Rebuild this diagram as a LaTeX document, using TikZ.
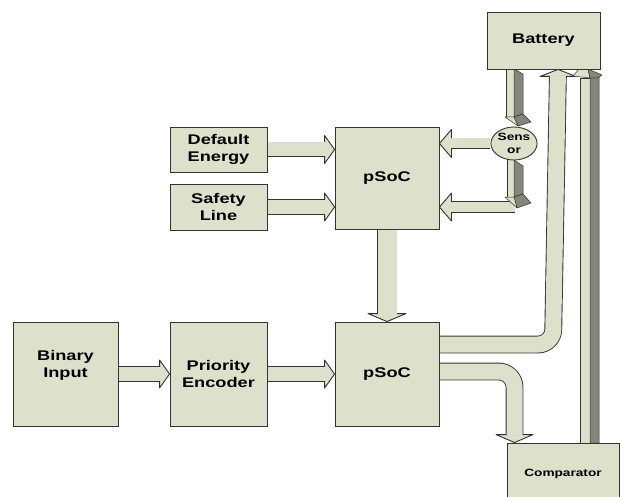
\documentclass[tikz,border=0pt]{standalone}
\usepackage{fontspec}
\setmainfont[FakeStretch=1.3]{Liberation Sans}
\usepackage{tikz}
\usetikzlibrary{
arrows.meta,
positioning,
shapes.geometric,
calc,
backgrounds
}
\definecolor{blkfill}{HTML}{DDE1CB}
\definecolor{blkshade}{HTML}{838779}
\definecolor{blkline}{HTML}{333333}

\tikzset{
  block/.style={draw=blkline, line width=0.9pt, fill=blkfill, align=center, inner sep=0pt,
    font=\bfseries\fontsize{14}{17}\selectfont},
  pipeline/.style={line width=#1+1.8pt, draw=blkline},
  pipecore/.style={line width=#1, draw=blkfill},
  face3d/.style={fill=blkfill, draw=blkline, line width=0.5pt, line join=round},
  shade3d/.style={fill=blkshade, draw=blkline, line width=0.5pt, line join=round},
  pics/fathead/.style args={#1/#2}{code={
    \filldraw[face3d, line width=0.9pt] (-#1,#2) -- (0,0) -- (-#1,-#2) -- cycle;}}
}

\begin{document}
\begin{tikzpicture}[x=1pt, y=-1pt, >=Stealth]
\useasboundingbox (0,0) rectangle (620,497);

% Blocks
\node[block, minimum width=97pt, minimum height=45pt] (dflt) at (218.5,149.5) {Default\\Energy};
\node[block, minimum width=97pt, minimum height=46pt] (safety) at (218.5,207) {Safety\\Line};
\node[block, minimum width=104pt, minimum height=102pt] (psoca) at (387,178) {pSoC};
\node[block, minimum width=105pt, minimum height=104pt] (binary) at (65.5,374) {};
\node[font=\bfseries\fontsize{14}{17}\selectfont, align=center] (bintxt) at (65.5,365) {Binary\\Input};
\node[block, minimum width=97pt, minimum height=104pt] (prio) at (218.5,374) {Priority\\Encoder};
\node[block, minimum width=104pt, minimum height=104pt] (psocb) at (387,374) {pSoC};
\node[block, minimum width=113pt, minimum height=57pt] (battery) at (543.5,40.5) {Battery};
\node[block, minimum width=112pt, minimum height=64pt,
  font=\bfseries\fontsize{10.5}{13}\selectfont] (comp) at (563,475) {\raisebox{4pt}{Comparator}};
\node[block, ellipse, minimum width=44pt, minimum height=33pt,
  font=\bfseries\fontsize{10.5}{12.5}\selectfont] (sensor) at (514,143.5) {Sens\\or};

% Connection points
\coordinate (snsout) at (515,207);
\coordinate (psocout1) at ($(psocb.east)+(0,-29.5)$);
\coordinate (psocout2) at ($(psocb.east)+(0,-2.5)$);
\coordinate (batin) at ($(battery.south)+(14.5,0)$);
\coordinate (compin) at ($(comp.north west)+(8,0)$);

\begin{scope}[on background layer]
\fill[white] (0,0) rectangle (620,497);

% Block arrows into upper pSoC
\pic at (dflt.east -| psoca.west) {fathead=10/14};
\draw[pipeline=14pt, shorten >=10pt] (dflt.east) -- (dflt.east -| psoca.west);
\draw[pipecore=14pt, shorten >=9pt] (dflt.east) -- (dflt.east -| psoca.west);

\pic at (safety.east -| psoca.west) {fathead=10/14};
\draw[pipeline=14pt, shorten >=10pt] (safety.east) -- (safety.east -| psoca.west);
\draw[pipecore=14pt, shorten >=9pt] (safety.east) -- (safety.east -| psoca.west);

\pic[rotate=180] at (sensor.west -| psoca.east) {fathead=12/14};
\draw[pipeline=10pt, shorten >=12pt] (sensor.west) -- (sensor.west -| psoca.east);
\draw[pipecore=10pt, shorten >=11pt] (sensor.west) -- (sensor.west -| psoca.east);

\pic[rotate=180] at (snsout -| psoca.east) {fathead=12/14};
\draw[pipeline=10pt, shorten >=12pt] (snsout) -- (snsout -| psoca.east);
\draw[pipecore=10pt, shorten >=11pt] (snsout) -- (snsout -| psoca.east);

% pSoC to pSoC
\pic[rotate=-90] at (psocb.north) {fathead=8/19};
\draw[pipeline=19pt, shorten >=8pt] (psoca.south) -- (psocb.north);
\draw[pipecore=19pt, shorten >=7pt] (psoca.south) -- (psocb.north);

% Bottom row
\pic at (prio.west) {fathead=10/14};
\draw[pipeline=14pt, shorten >=10pt] (binary.east) -- (prio.west);
\draw[pipecore=14pt, shorten >=9pt] (binary.east) -- (prio.west);

\pic at (psocb.west) {fathead=10/14};
\draw[pipeline=14pt, shorten >=10pt] (prio.east) -- (psocb.west);
\draw[pipecore=14pt, shorten >=9pt] (prio.east) -- (psocb.west);

% Lower pSoC outputs
\pic[rotate=90] at (batin) {fathead=7/18};
\draw[pipeline=16pt, rounded corners=15pt, shorten >=7pt] (psocout1) -- (553,344.5) -- (batin);
\draw[pipecore=16pt, rounded corners=15pt, shorten >=6pt] (psocout1) -- (553,344.5) -- (batin);

\pic[rotate=-90] at (compin) {fathead=8/18.5};
\draw[pipeline=16pt, rounded corners=16pt, shorten >=8pt] (psocout2) -| (compin);
\draw[pipecore=16pt, rounded corners=16pt, shorten >=7pt] (psocout2) -| (compin);

% Battery to sensor (3D)
\filldraw[face3d] (506,69) rectangle (514,117);
\filldraw[shade3d] (514,69) -- (523,74) -- (523,114) -- (514,117) -- cycle;
\filldraw[shade3d] (514,117) -- (523,114) -- (531,122) -- (518,126) -- cycle;
\filldraw[face3d] (505,117) -- (514,117) -- (518,126) -- cycle;

% Sensor down (3D)
\filldraw[face3d] (507,158) rectangle (514,197);
\filldraw[shade3d] (514,160) -- (523,166) -- (523,194) -- (514,197) -- cycle;
\filldraw[shade3d] (514,197) -- (523,194) -- (531,203) -- (517,208) -- cycle;
\filldraw[face3d] (505,197) -- (514,197) -- (517,208) -- cycle;

% Comparator to battery (3D)
\filldraw[face3d] (580,443) rectangle (590,78);
\filldraw[shade3d] (590,78) -- (599,76) -- (599,443) -- (590,443) -- cycle;
\filldraw[face3d] (573,76) -- (579,69) -- (588,69) -- (590,78) -- cycle;
\filldraw[shade3d] (588,69) -- (602,75) -- (598,78) -- (590,78) -- cycle;
\end{scope}

\end{tikzpicture}
\end{document}
